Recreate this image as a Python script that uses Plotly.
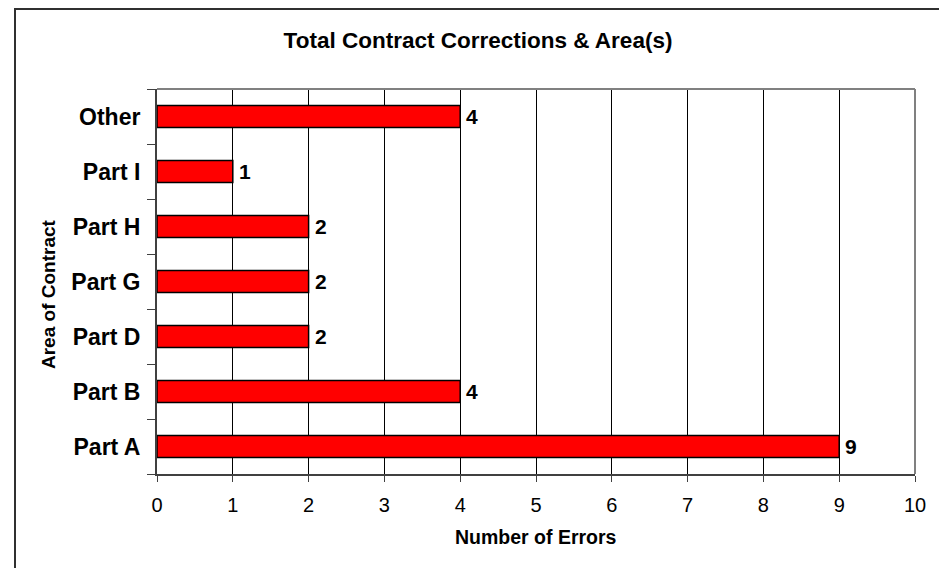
import plotly.graph_objects as go

# Chart data
areas = ["Part A", "Part B", "Part D", "Part G", "Part H", "Part I", "Other"]
errors = [9, 4, 2, 2, 2, 1, 4]

font_family = "Arial, Liberation Sans, sans-serif"

# the page body adds an 8px margin, so the figure is laid out 8px up/left
W, H = 939, 560
PL, PR, PT, PB = 149, 907, 81, 466   # plot area edges in figure pixels
pw, ph = PR - PL, PB - PT

fig = go.Figure()

# Red bars with black outline
fig.add_trace(go.Bar(
    y=areas,
    x=errors,
    orientation="h",
    width=0.4,
    marker=dict(color="#FF0000", line=dict(color="#000000", width=1.5)),
    hoverinfo="x+y",
))

# bold value labels just right of each bar
for a, e in zip(areas, errors):
    fig.add_annotation(x=e, y=a, xref="x", yref="y", text="<b>%d</b>" % e,
                       showarrow=False, xanchor="left", yanchor="middle", xshift=4,
                       font=dict(size=21, family=font_family, color="#000000"))

fig.update_layout(
    width=W,
    height=H,
    paper_bgcolor="white",
    plot_bgcolor="white",
    margin=dict(l=PL, r=W - PR, t=PT, b=H - PB),
    showlegend=False,
    font=dict(family=font_family, color="#000000"),
    title=dict(
        text="<b>Total Contract Corrections & Area(s)</b>",
        font=dict(size=22.5, family=font_family, color="#000000"),
        x=470 / W, xref="container", xanchor="center",
        y=1 - 32 / H, yref="container", yanchor="middle",
    ),
)

fig.update_xaxes(
    range=[0, 10],
    dtick=1,
    automargin=False,
    showgrid=True,
    gridcolor="#000000",
    gridwidth=1,
    zeroline=False,
    showline=True,
    linecolor="#404040",
    linewidth=2,
    ticks="outside",
    ticklen=6,
    tickcolor="#404040",
    ticklabelstandoff=6,
    tickfont=dict(size=20, family=font_family, color="#000000"),
)

fig.update_yaxes(
    categoryorder="array",
    categoryarray=areas,
    automargin=False,
    showgrid=False,
    zeroline=False,
    showline=True,
    linecolor="#404040",
    linewidth=2,
    ticks="outside",
    tickson="boundaries",
    ticklen=8,
    tickcolor="#404040",
    ticklabelstandoff=10,
    tickfont=dict(size=23, family=font_family, color="#000000", weight="bold"),
)

# axis titles
fig.add_annotation(x=0.5, y=(PB - 529) / ph, xref="paper", yref="paper",
                   text="<b>Number of Errors</b>", showarrow=False,
                   xanchor="center", yanchor="middle",
                   font=dict(size=19.5, family=font_family, color="#000000"))
fig.add_annotation(x=(40 - PL) / pw, y=(PB - 286) / ph, xref="paper", yref="paper",
                   text="<b>Area of Contract</b>", showarrow=False, textangle=-90,
                   xanchor="center", yanchor="middle",
                   font=dict(size=19, family=font_family, color="#000000"))

# gray plot-area frame on top and right
fig.add_shape(type="line", xref="x domain", yref="y domain", x0=0, x1=1, y0=1, y1=1,
              line=dict(color="#808080", width=2), layer="above")
fig.add_shape(type="line", xref="x domain", yref="y domain", x0=1, x1=1, y0=0, y1=1,
              line=dict(color="#808080", width=2), layer="above")

# outer chart border (bottom edge runs past the visible page)
fig.add_shape(type="rect", xref="paper", yref="paper",
              x0=(7 - PL) / pw, x1=(934 - PL) / pw,
              y0=(PB - 575) / ph, y1=(PB - 1) / ph,
              line=dict(color="#303030", width=2), layer="above")

fig.write_html("out.html")
